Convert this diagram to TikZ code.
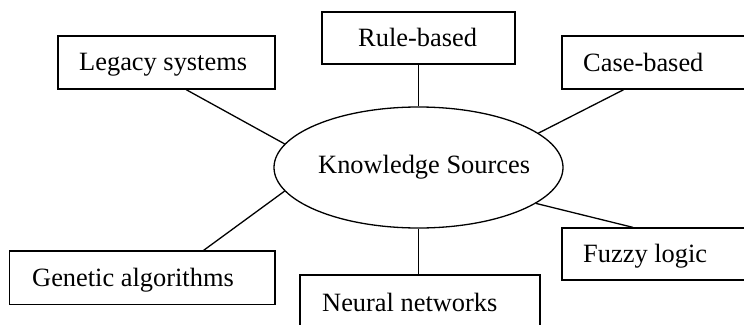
\documentclass[tikz,border=0pt]{standalone}
\usepackage{fontspec}
\setmainfont{Liberation Serif}
\usetikzlibrary{shapes.geometric,calc}
\tikzset{
  box/.style={draw, rectangle, line width=1.3pt, inner sep=0pt},
  lbl/.style={anchor=base west, inner sep=0pt, font=\fontsize{26.4}{30}\selectfont},
  conn/.style={line width=1.3pt}
}
\begin{document}
\begin{tikzpicture}[x=1pt,y=-1pt]
\useasboundingbox (0,0) rectangle (744,324);
\clip (0,0) rectangle (744,324);
% boxes
\node[box, minimum width=217, minimum height=53] (legacy) at (166.5,62.5) {};
\node[box, minimum width=193, minimum height=52] (rule) at (418.5,38) {};
\node[box, minimum width=190, minimum height=53] (case) at (657,62.5) {};
\node[box, minimum width=265.5, minimum height=53.5] (genetic) at (142.25,277.75) {};
\node[box, minimum width=240, minimum height=60] (neural) at (420,305) {};
\node[box, minimum width=190, minimum height=52] (fuzzy) at (657,254) {};
% ellipse
\node[draw, ellipse, line width=1.3pt, inner sep=0pt, minimum width=289, minimum height=121] (ks) at (418.5,167.5) {};
% labels
\node[lbl] (legacyt) at (79,70.7) {Legacy systems};
\node[lbl] (rulet) at (358,46.5) {Rule-based};
\node[lbl] (caset) at (583,71) {Case-based};
\node[lbl] (genetict) at (32,286) {Genetic algorithms};
\node[lbl] (neuralt) at (322,311) {Neural networks};
\node[lbl] (fuzzyt) at (583,262) {Fuzzy logic};
\node[lbl] (kst) at (318,173.3) {Knowledge Sources};
% connectors
\draw[conn] ($(legacy.south west)!0.59!(legacy.south east)$) -- (ks.170);
\draw[conn] (rule.south) -- (ks.north);
\draw[conn] ($(case.south west)!0.326!(case.south east)$) -- (ks.16.5);
\draw[conn] ($(genetic.north west)!0.73!(genetic.north east)$) -- (ks.190.8);
\draw[conn] (ks.south) -- (ks.south |- neural.north);
\draw[conn] ($(fuzzy.north west)!0.374!(fuzzy.north east)$) -- (ks.343.5);
\end{tikzpicture}
\end{document}
